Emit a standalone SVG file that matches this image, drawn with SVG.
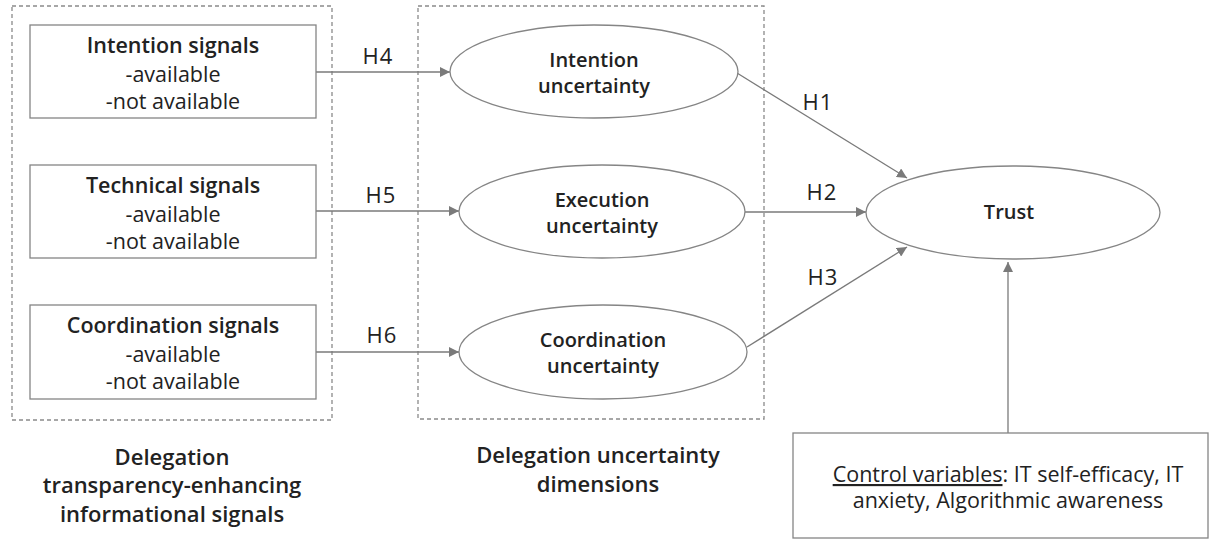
<svg xmlns="http://www.w3.org/2000/svg" width="1215" height="540" viewBox="0 0 1215 540">
<style>
.box{fill:#fff;stroke:#858585;stroke-width:1.3}
.grp{fill:none;stroke:#8a8a8a;stroke-width:1.3;stroke-dasharray:4 3}
.t{font-family:"Open Sans",Lato,sans-serif;fill:#222;text-anchor:middle}
.b{font-weight:600}
.n{font-size:21.5px}
.e{font-size:20px}
.g{font-size:22px}
.h{font-family:"Open Sans",Lato,sans-serif;font-size:22px;letter-spacing:1px;fill:#222;text-anchor:middle}
.c{stroke:#7a7a7a;stroke-width:1.3;fill:none;marker-end:url(#ah)}
</style>
<defs>
<marker id="ah" viewBox="0 0 10 10" refX="10" refY="5" markerWidth="10" markerHeight="10" markerUnits="userSpaceOnUse" orient="auto">
<path d="M0,0 L10,5 L0,10 z" fill="#7a7a7a"/>
</marker>
</defs>
<rect x="0" y="0" width="1215" height="540" fill="#fff"/>
<g id="groups">
<rect class="grp" x="12" y="6" width="320" height="414"/>
<rect class="grp" x="418" y="6" width="346" height="413"/>
</g>
<g id="connectors">
<line class="c" x1="316" y1="72" x2="450" y2="72"/>
<line class="c" x1="316" y1="211" x2="459" y2="211"/>
<line class="c" x1="316" y1="352" x2="459" y2="352"/>
<line class="c" x1="737" y1="73" x2="907" y2="178"/>
<line class="c" x1="745" y1="212" x2="866" y2="212"/>
<line class="c" x1="747" y1="347" x2="907" y2="247"/>
<line class="c" x1="1008" y1="433" x2="1008" y2="262"/>
<text class="h" x="378" y="64">H4</text>
<text class="h" x="381" y="203">H5</text>
<text class="h" x="382" y="343">H6</text>
<text class="h" x="818" y="110">H1</text>
<text class="h" x="822" y="200">H2</text>
<text class="h" x="823" y="285">H3</text>
</g>
<g id="intention-signals">
<rect class="box" x="30" y="25" width="286" height="93"/>
<text class="t b n" x="173" y="53">Intention signals</text>
<text class="t n" x="173" y="82">-available</text>
<text class="t n" x="173" y="109">-not available</text>
</g>
<g id="technical-signals">
<rect class="box" x="30" y="165" width="286" height="93"/>
<text class="t b n" x="173" y="193">Technical signals</text>
<text class="t n" x="173" y="222">-available</text>
<text class="t n" x="173" y="249">-not available</text>
</g>
<g id="coordination-signals">
<rect class="box" x="30" y="305" width="286" height="94"/>
<text class="t b n" x="173" y="333">Coordination signals</text>
<text class="t n" x="173" y="362">-available</text>
<text class="t n" x="173" y="389">-not available</text>
</g>
<g id="intention-uncertainty">
<ellipse class="box" cx="594" cy="71.5" rx="144" ry="46.5"/>
<text class="t b e" x="594" y="67">Intention</text>
<text class="t b e" x="594" y="93">uncertainty</text>
</g>
<g id="execution-uncertainty">
<ellipse class="box" cx="602" cy="211.5" rx="143" ry="46.5"/>
<text class="t b e" x="602" y="207">Execution</text>
<text class="t b e" x="602" y="233">uncertainty</text>
</g>
<g id="coordination-uncertainty">
<ellipse class="box" cx="603" cy="352" rx="144" ry="47"/>
<text class="t b e" x="603" y="347">Coordination</text>
<text class="t b e" x="603" y="373">uncertainty</text>
</g>
<g id="trust">
<ellipse class="box" cx="1013" cy="212.5" rx="147" ry="46.5"/>
<text class="t b e" x="1009" y="219">Trust</text>
</g>
<g id="control-variables">
<rect class="box" x="793" y="433" width="415" height="105"/>
<text class="t n" x="1008" y="482"><tspan text-decoration="underline">Control variables</tspan>: IT self-efficacy, IT</text>
<text class="t n" x="1008" y="508">anxiety, Algorithmic awareness</text>
</g>
<g id="group-labels">
<text class="t b g" x="172" y="465">Delegation</text>
<text class="t b g" x="172" y="493">transparency-enhancing</text>
<text class="t b g" x="172" y="522">informational signals</text>
<text class="t b g" x="598" y="463">Delegation uncertainty</text>
<text class="t b g" x="598" y="492">dimensions</text>
</g>
</svg>
